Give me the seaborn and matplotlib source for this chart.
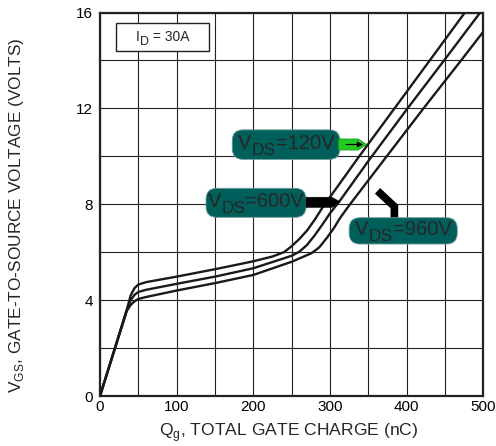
import numpy as np
import pandas as pd
import matplotlib
matplotlib.use("Agg")
import matplotlib.pyplot as plt
from matplotlib.patches import FancyBboxPatch, Polygon, Rectangle
from matplotlib.ticker import MultipleLocator
import seaborn as sns

# gate charge curves (Qg in nC, VGS in volts)
q_120 = [0, 35, 40, 45, 50, 60, 100, 150, 200, 225, 240, 250, 260, 270, 280, 290, 337, 383, 429, 476]
v_120 = [0, 3.6, 4.2, 4.5, 4.65, 4.75, 4.98, 5.29, 5.62, 5.82, 6.0, 6.25, 6.55, 6.9, 7.35, 7.85, 9.95, 11.95, 13.95, 16.0]

q_600 = [0, 35, 40, 45, 50, 60, 100, 150, 200, 250, 260, 270, 280, 290, 300, 313, 350, 400, 450, 496]
v_600 = [0, 3.6, 4.0, 4.22, 4.34, 4.43, 4.68, 4.98, 5.33, 5.85, 6.02, 6.3, 6.7, 7.15, 7.62, 8.15, 9.8, 11.95, 14.05, 16.0]

q_960 = [0, 35, 40, 45, 50, 60, 100, 150, 200, 250, 276, 286, 296, 305, 313, 325, 374, 422, 471, 500]
v_960 = [0, 3.55, 3.8, 3.95, 4.05, 4.13, 4.4, 4.71, 5.05, 5.6, 5.96, 6.2, 6.6, 7.0, 7.42, 7.95, 10.0, 12.0, 14.0, 15.2]

series = ["120V", "600V", "960V"]
x_ticks = [0, 100, 200, 300, 400, 500]
y_ticks = [0, 4, 8, 12, 16]

df = pd.concat([
    pd.DataFrame({"Qg": q_120, "VGS": v_120, "VDS": series[0]}),
    pd.DataFrame({"Qg": q_600, "VGS": v_600, "VDS": series[1]}),
    pd.DataFrame({"Qg": q_960, "VGS": v_960, "VDS": series[2]}),
])

sns.set_style("white")
plt.rcParams["font.family"] = ["Liberation Sans", "DejaVu Sans"]
plt.rcParams["mathtext.fontset"] = "custom"
plt.rcParams["mathtext.rm"] = "Liberation Sans"

fig = plt.figure(figsize=(4.96, 4.46), dpi=100)
ax = fig.add_axes([100/496, 1-396/446, 383.3/496, 383.5/446])

sns.lineplot(data=df, x="Qg", y="VGS", hue="VDS", palette=["#1a1a1a"]*3,
             sort=False, estimator=None, legend=False, lw=1.7, ax=ax, zorder=3)

ax.set_xlim(0, 500)
ax.set_ylim(0, 16)
ax.set_xticks(x_ticks)
ax.set_yticks(y_ticks)
ax.xaxis.set_minor_locator(MultipleLocator(50))
ax.yaxis.set_minor_locator(MultipleLocator(2))
ax.grid(True, which="both", color="#222222", lw=0.8)
ax.set_axisbelow(True)
ax.tick_params(which="both", length=0, labelsize=11, colors="black")
ax.tick_params(axis="x", pad=3)
ax.tick_params(axis="y", pad=5)
for s in ax.spines.values():
    s.set_color("#222222")
    s.set_linewidth(1.6)
ax.set_xlabel("")
ax.set_ylabel("")

fig.text(0.583, 0.031, r"Q$_{\mathregular{g}}$, TOTAL GATE CHARGE (nC)",
         ha="center", va="center", fontsize=12.6)
fig.text(0.034, 0.518, r"V$_{\mathregular{GS}}$, GATE-TO-SOURCE VOLTAGE (VOLTS)",
         ha="center", va="center", rotation=90, fontsize=12.4)

renderer = fig.canvas.get_renderer()
px_per_pt = fig.dpi / 72


def chain_text(cx, cy, parts):
    # parts: (text, fontsize, baseline shift in points); group centred on (cx, cy)
    arts, widths = [], []
    for s, fs, dy in parts:
        t = ax.text(0, 0, s, fontsize=fs, transform=ax.transAxes,
                    ha="left", va="baseline", zorder=7)
        arts.append(t)
        widths.append(t.get_window_extent(renderer).width)
    tx, ty = ax.transAxes.transform((cx, cy))
    cap = 0.72 * parts[0][1] * px_per_pt
    x = tx - sum(widths) / 2
    base = ty - cap / 2
    for t, w, (s, fs, dy) in zip(arts, widths, parts):
        t.set_position(ax.transAxes.inverted().transform((x, base + dy * px_per_pt)))
        x += w


# I_D box
ax.add_patch(Rectangle((0.0417, 0.9009), 0.2427, 0.073, transform=ax.transAxes,
                       fc="white", ec="#222222", lw=1.0, zorder=5))
chain_text(0.163, 0.940, [("I", 10, 0), ("D", 9, -3.5), (" = 30A", 10, 0)])

teal = "#005f5a"


def label_box(x0, y0, x1, y1, value):
    ax.add_patch(FancyBboxPatch((x0, y0), x1-x0, y1-y0, transform=ax.transAxes,
                                boxstyle="round,pad=0,rounding_size=0.028",
                                fc=teal, ec="#6a9a97", lw=0.6, zorder=6))
    chain_text((x0+x1)/2, (y0+y1)/2 + 0.008,
               [("V", 14.5, 0), ("DS", 12.5, -4.5), ("=" + value, 14.5, 0)])


label_box(0.345, 0.617, 0.626, 0.694, series[0])
label_box(0.2766, 0.4659, 0.5375, 0.5416, series[1])
label_box(0.650, 0.3963, 0.932, 0.4649, series[2])

# green arrow for 120V
ax.add_patch(Polygon([(0.6217, 0.6701), (0.673, 0.6701), (0.6958, 0.6558),
                      (0.673, 0.6415), (0.6217, 0.6415)], closed=True,
                     transform=ax.transAxes, fc="#22cc22", ec="#119911", lw=0.6, zorder=6))
ax.annotate("", xy=(0.694, 0.6558), xytext=(0.635, 0.6558), xycoords="axes fraction",
            arrowprops=dict(arrowstyle="-|>", color="black", lw=0.9, mutation_scale=8), zorder=7)

# black arrow for 600V
ax.add_patch(Polygon([(0.5375, 0.5181), (0.6053, 0.5181), (0.6262, 0.5059),
                      (0.6053, 0.4921), (0.5375, 0.4921)], closed=True,
                     transform=ax.transAxes, fc="black", ec="black", lw=0.5, zorder=6))

# bent black pointer for 960V
ax.plot([0.724, 0.768, 0.768], [0.535, 0.494, 0.466], transform=ax.transAxes,
        color="black", lw=5.5, solid_capstyle="butt", solid_joinstyle="miter", zorder=6)

fig.savefig("out.png", dpi=100)
